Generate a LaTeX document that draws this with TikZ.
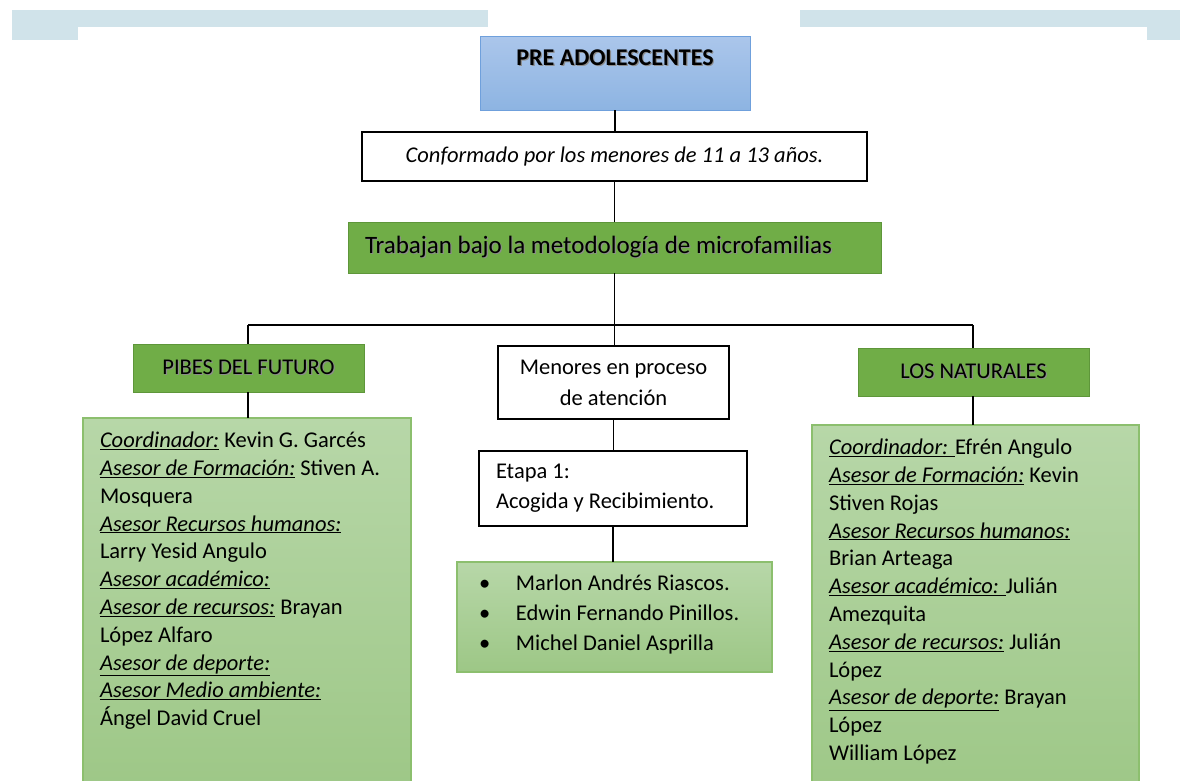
\documentclass[tikz,border=0pt]{standalone}
\usepackage{fontspec}
\setmainfont{Carlito}
\begin{document}
\begin{tikzpicture}[x=1pt,y=-1pt,
  every node/.style={font=\fontsize{22.5}{27}\selectfont, inner sep=0pt, outer sep=0pt},
  bluebox/.style={draw={rgb,255:red,111;green,160;blue,220}, line width=1pt,
     top color={rgb,255:red,171;green,198;blue,235}, bottom color={rgb,255:red,141;green,180;blue,226}},
  plainbox/.style={draw=black, line width=1.2pt, fill=white},
  darkgreen/.style={draw={rgb,255:red,94;green,150;blue,58}, line width=1pt, fill={rgb,255:red,112;green,173;blue,71}},
  lightgreen/.style={draw={rgb,255:red,140;green,191;blue,110}, line width=1.2pt,
     top color={rgb,255:red,183;green,215;blue,168}, bottom color={rgb,255:red,157;green,199;blue,134}},
  conn/.style={draw=black, line width=1.3pt}]
\useasboundingbox (0,0) rectangle (1180,780);
\clip (0,0) rectangle (1180,780);
\definecolor{bandc}{RGB}{208,227,234}
\fill[bandc] (12,10) rectangle (488,40);
\fill[bandc] (800,10) rectangle (1180,40);
\fill[white] (78,27) rectangle (1147,785);

\newcommand{\ul}[1]{\underline{\textit{#1}}}
\newcommand{\shd}[1]{\makebox[0pt][l]{\hspace{1.2pt}\raisebox{-1.2pt}{\textcolor{black!45}{#1}}}#1}

\node[bluebox, minimum width=270pt, minimum height=74pt] (pre) at (615,73)
  {\parbox[c][74pt][t]{270pt}{\centering\vspace{14pt}\fontsize{24}{28}\selectfont\shd{\textbf{PRE ADOLESCENTES}}}};
\node[plainbox, minimum width=505pt, minimum height=49pt] (conf) at (614.5,156.5)
  {\textit{Conformado por los menores de 11 a 13 años.}};
\node[darkgreen, minimum width=533pt, minimum height=51pt] (trab) at (614.5,247.5)
  {\parbox{533pt}{\raggedright\hspace*{17pt}\fontsize{25}{30}\selectfont\shd{Trabajan bajo la metodología de microfamilias}}};

\node[darkgreen, minimum width=231pt, minimum height=48pt] (pibes) at (248.5,368) {\shd{PIBES DEL FUTURO}};
\node[plainbox, minimum width=231pt, minimum height=73pt, align=center,
  font=\fontsize{22.5}{31}\selectfont] (menores) at (613.5,382.5) {Menores en proceso\\de atención};
\node[darkgreen, minimum width=231pt, minimum height=48pt] (nat) at (973.5,372) {\shd{LOS NATURALES}};

\node[plainbox, minimum width=268pt, minimum height=75pt] (etapa) at (613,488.5)
  {\parbox{268pt}{\fontsize{22.5}{30}\selectfont\raggedright\leftskip=17pt
   Etapa 1:\\Acogida y Recibimiento.}};

\node[lightgreen, anchor=north west] (lista) at (457,562)
  {\parbox[t][110pt][t]{315pt}{\fontsize{22.5}{30}\selectfont\raggedright
   \vspace{13pt}
   \hspace*{22pt}\makebox[37pt][l]{\textbullet}Marlon Andrés Riascos.\\
   \hspace*{22pt}\makebox[37pt][l]{\textbullet}Edwin Fernando Pinillos.\\
   \hspace*{22pt}\makebox[37pt][l]{\textbullet}Michel Daniel Asprilla}};

\node[lightgreen, anchor=north west] (izq) at (83,418)
  {\parbox[t][380pt][t]{328pt}{\fontsize{22.5}{27.8}\selectfont\raggedright\leftskip=17pt
   \vspace{14pt}
   \ul{Coordinador:} Kevin G. Garcés\\
   \ul{Asesor de Formación:} Stiven A.\\
   Mosquera\\
   \ul{Asesor Recursos humanos:}\\
   Larry Yesid Angulo\\
   \ul{Asesor académico:}\\
   \ul{Asesor de recursos:} Brayan\\
   López Alfaro\\
   \ul{Asesor de deporte:}\\
   \ul{Asesor Medio ambiente:}\\
   Ángel David Cruel}};

\node[lightgreen, anchor=north west] (der) at (812,425)
  {\parbox[t][380pt][t]{327pt}{\fontsize{22.5}{27.8}\selectfont\raggedright\leftskip=17pt
   \vspace{14pt}
   \ul{Coordinador: }Efrén Angulo\\
   \ul{Asesor de Formación:} Kevin\\
   Stiven Rojas\\
   \ul{Asesor Recursos humanos:}\\
   Brian Arteaga\\
   \ul{Asesor académico: }Julián\\
   Amezquita\\
   \ul{Asesor de recursos:} Julián\\
   López\\
   \ul{Asesor de deporte:} Brayan\\
   López\\
   William López}};

\coordinate (busL) at (248,325);
\coordinate (busR) at (973,325);

\draw[conn] (pre.south) -- (pre.south |- conf.north);
\draw[conn] (conf.south) -- (conf.south |- trab.north);
\draw[conn] (trab.south) -- (trab.south |- menores.north);
\draw[conn] (busL) -- (busR);
\draw[conn] (busL) -- (busL |- pibes.north);
\draw[conn] (busR) -- (busR |- nat.north);
\draw[conn] (pibes.south -| busL) -- (busL |- izq.north);
\draw[conn] (nat.south -| busR) -- (busR |- der.north);
\draw[conn] (menores.south) -- (menores.south |- etapa.north);
\draw[conn] (etapa.south) -- (etapa.south |- lista.north);
\end{tikzpicture}
\end{document}
